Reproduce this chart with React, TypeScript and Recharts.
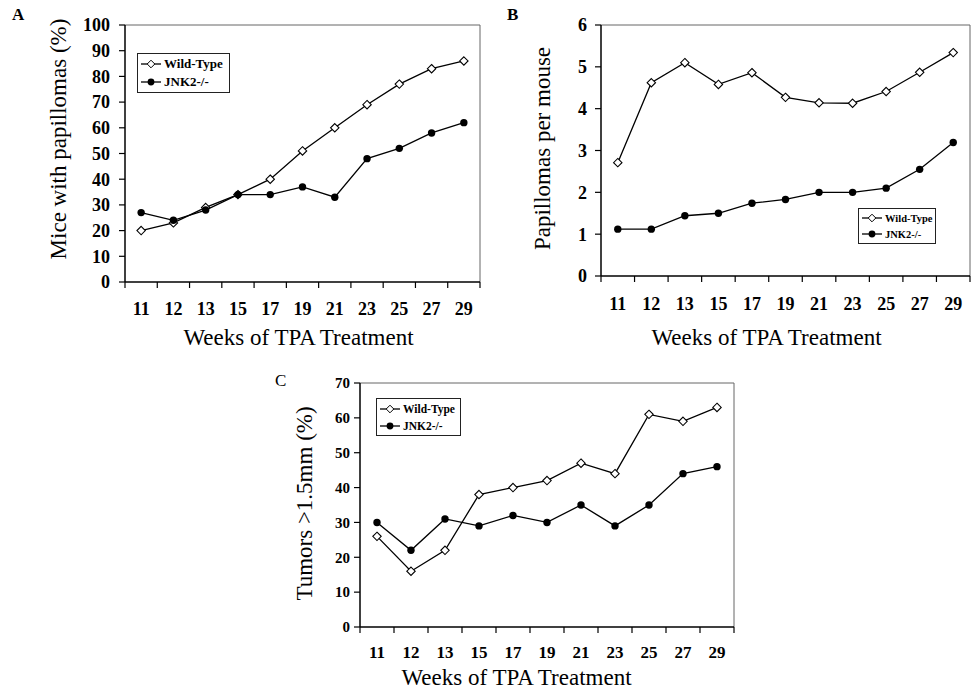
import React from 'react';
import {
  LineChart,
  Line,
  XAxis,
  YAxis,
  Label,
  Legend,
  ReferenceLine,
} from 'recharts';

const FONT = "'Liberation Serif', 'Times New Roman', Times, serif";

const weeks = ['11', '12', '13', '15', '17', '19', '21', '23', '25', '27', '29'];

// A: mice with papillomas (%)
const pctWildType = [20, 23, 29, 34, 40, 51, 60, 69, 77, 83, 86];
const pctJnk2 = [27, 24, 28, 34, 34, 37, 33, 48, 52, 58, 62];
const pctTicks = [0, 10, 20, 30, 40, 50, 60, 70, 80, 90, 100];

// B: papillomas per mouse
const perMouseWildType = [2.71, 4.62, 5.1, 4.58, 4.86, 4.27, 4.14, 4.13, 4.41, 4.87, 5.34];
const perMouseJnk2 = [1.12, 1.12, 1.44, 1.5, 1.74, 1.83, 2.0, 2.0, 2.1, 2.55, 3.19];
const perMouseTicks = [0, 1, 2, 3, 4, 5, 6];

// C: tumors > 1.5mm (%)
const tumorWildType = [26, 16, 22, 38, 40, 42, 47, 44, 61, 59, 63];
const tumorJnk2 = [30, 22, 31, 29, 32, 30, 35, 29, 35, 44, 46];
const tumorTicks = [0, 10, 20, 30, 40, 50, 60, 70];

const seriesNames = ['Wild-Type', 'JNK2-/-'];
const xTitle = 'Weeks of TPA Treatment';

// tick marks sit on the category edges, labels in between
const edgeTicks = Array.from({ length: weeks.length + 1 }, (_, i) => i);

function buildRows(wt: number[], jnk: number[]) {
  return weeks.map((w, i) => ({ pos: i + 0.5, week: w, wt: wt[i], jnk: jnk[i] }));
}

function Diamond(props: any) {
  const { cx, cy, index } = props;
  if (cx == null || cy == null) return <g key={`dm-${index}`} />;
  const r = 4.2;
  return (
    <polygon
      key={`dm-${index}`}
      points={`${cx},${cy - r} ${cx + r},${cy} ${cx},${cy + r} ${cx - r},${cy}`}
      fill="#fff"
      stroke="#000"
      strokeWidth={1.1}
    />
  );
}

function LegendBox({ fontSize, rowHeight, width }: { fontSize: number; rowHeight: number; width: number }) {
  const icon = (filled: boolean) => (
    <svg width={22} height={10} style={{ marginRight: 2, flex: 'none' }}>
      <line x1={1} y1={5} x2={21} y2={5} stroke="#000" strokeWidth={1.3} />
      {filled ? (
        <circle cx={11} cy={5} r={3.4} fill="#000" />
      ) : (
        <polygon points="11,1.2 14.8,5 11,8.8 7.2,5" fill="#fff" stroke="#000" strokeWidth={1} />
      )}
    </svg>
  );
  return (
    <div
      style={{
        width,
        border: '1px solid #222',
        background: '#fff',
        padding: '1px 2px',
        boxSizing: 'border-box',
        fontFamily: FONT,
        fontWeight: 'bold',
        fontSize,
        color: '#000',
        whiteSpace: 'nowrap',
      }}
    >
      {seriesNames.map((name, i) => (
        <div key={name} style={{ display: 'flex', alignItems: 'center', height: rowHeight }}>
          {icon(i === 1)}
          <span>{name}</span>
        </div>
      ))}
    </div>
  );
}

interface PanelProps {
  left: number;
  top: number;
  width: number;
  height: number;
  margin: { top: number; right: number; bottom: number; left: number };
  yWidth: number;
  xHeight: number;
  data: ReturnType<typeof buildRows>;
  yTicks: number[];
  yTitle: string;
  yTitleX: number;
  yTitleDy: number;
  xTitleDx: number;
  xTitleDy: number;
  yTickFont: number;
  yTickMargin: number;
  xTickFont: number;
  xTickDy: number;
  legend: { left: number; top: number; fontSize: number; rowHeight: number; width: number };
}

function Panel(p: PanelProps) {
  const plotWidth = p.width - p.margin.left - p.margin.right - p.yWidth;
  const band = plotWidth / weeks.length;
  const yMax = p.yTicks[p.yTicks.length - 1];

  const weekTick = (props: any) => {
    const { x, y, payload, index } = props;
    const i = payload.value;
    if (i >= weeks.length) return <g key={`wt-${index}`} />;
    return (
      <text
        key={`wt-${index}`}
        x={x + band / 2}
        y={y + p.xTickDy}
        textAnchor="middle"
        fontFamily={FONT}
        fontWeight="bold"
        fontSize={p.xTickFont}
        fill="#000"
      >
        {weeks[i]}
      </text>
    );
  };

  return (
    <div style={{ position: 'absolute', left: p.left, top: p.top }}>
      <LineChart width={p.width} height={p.height} data={p.data} margin={p.margin}>
        <XAxis
          type="number"
          dataKey="pos"
          domain={[0, weeks.length]}
          ticks={edgeTicks}
          interval={0}
          height={p.xHeight}
          tickSize={6}
          tickMargin={2}
          tick={weekTick}
          axisLine={{ stroke: '#000', strokeWidth: 1.5 }}
          tickLine={{ stroke: '#000', strokeWidth: 1.2 }}
        >
          <Label
            content={(lp: any) => {
              const vb = lp.viewBox;
              return (
                <text
                  x={vb.x + vb.width / 2 + p.xTitleDx}
                  y={vb.y + p.xTitleDy}
                  textAnchor="middle"
                  fontFamily={FONT}
                  fontSize={23}
                  fill="#000"
                >
                  {xTitle}
                </text>
              );
            }}
          />
        </XAxis>
        <YAxis
          type="number"
          domain={[0, yMax]}
          ticks={p.yTicks}
          interval={0}
          width={p.yWidth}
          tickSize={6}
          tickMargin={p.yTickMargin}
          tick={{ fontFamily: FONT, fontWeight: 'bold', fontSize: p.yTickFont, fill: '#000' }}
          axisLine={{ stroke: '#000', strokeWidth: 1.5 }}
          tickLine={{ stroke: '#000', strokeWidth: 1.2 }}
        >
          <Label
            content={(lp: any) => {
              const vb = lp.viewBox;
              const cx = vb.x + p.yTitleX;
              const cy = vb.y + vb.height / 2 + p.yTitleDy;
              return (
                <text
                  x={cx}
                  y={cy}
                  transform={`rotate(-90 ${cx} ${cy})`}
                  textAnchor="middle"
                  dominantBaseline="central"
                  fontFamily={FONT}
                  fontSize={23}
                  fill="#000"
                >
                  {p.yTitle}
                </text>
              );
            }}
          />
        </YAxis>
        <ReferenceLine y={yMax} stroke="#666" strokeWidth={1} />
        <ReferenceLine x={weeks.length} stroke="#666" strokeWidth={1} />
        <Legend
          layout="vertical"
          align="center"
          verticalAlign="middle"
          wrapperStyle={{ left: p.legend.left, top: p.legend.top, width: 'auto' }}
          content={() => (
            <LegendBox fontSize={p.legend.fontSize} rowHeight={p.legend.rowHeight} width={p.legend.width} />
          )}
        />
        <Line
          dataKey="wt"
          name={seriesNames[0]}
          stroke="#000"
          strokeWidth={1.3}
          dot={Diamond}
          activeDot={false}
          isAnimationActive={false}
        />
        <Line
          dataKey="jnk"
          name={seriesNames[1]}
          stroke="#000"
          strokeWidth={1.3}
          dot={{ r: 3.7, fill: '#000', stroke: '#000', strokeWidth: 0 }}
          activeDot={false}
          isAnimationActive={false}
        />
      </LineChart>
    </div>
  );
}

const letterStyle: React.CSSProperties = {
  position: 'absolute',
  fontFamily: FONT,
  fontSize: 17,
  lineHeight: '17px',
  color: '#000',
};

export default function App() {
  return (
    <div style={{ position: 'absolute', left: 0, top: 0, width: 976, height: 690, background: '#fff' }}>
      <Panel
        left={0}
        top={0}
        width={490}
        height={360}
        margin={{ top: 25, right: 10, bottom: 0, left: 5 }}
        yWidth={120}
        xHeight={78}
        data={buildRows(pctWildType, pctJnk2)}
        yTicks={pctTicks}
        yTitle="Mice with papillomas (%)"
        yTitleX={53}
        yTitleDy={-14.5}
        xTitleDx={-4}
        xTitleDy={63}
        yTickFont={18}
        yTickMargin={9}
        xTickFont={18}
        xTickDy={25}
        legend={{ left: 137, top: 53, fontSize: 13, rowHeight: 18, width: 93 }}
      />
      <Panel
        left={490}
        top={0}
        width={486}
        height={360}
        margin={{ top: 25, right: 6, bottom: 0, left: 5 }}
        yWidth={106}
        xHeight={84}
        data={buildRows(perMouseWildType, perMouseJnk2)}
        yTicks={perMouseTicks}
        yTitle="Papillomas per mouse"
        yTitleX={47}
        yTitleDy={-2}
        xTitleDx={-19}
        xTitleDy={69}
        yTickFont={18}
        yTickMargin={8}
        xTickFont={18}
        xTickDy={26}
        legend={{ left: 368, top: 208, fontSize: 10.5, rowHeight: 16, width: 78 }}
      />
      <Panel
        left={280}
        top={360}
        width={460}
        height={330}
        margin={{ top: 23, right: 6, bottom: 0, left: 5 }}
        yWidth={75}
        xHeight={63}
        data={buildRows(tumorWildType, tumorJnk2)}
        yTicks={tumorTicks}
        yTitle="Tumors >1.5mm (%)"
        yTitleX={19}
        yTitleDy={-1.5}
        xTitleDx={-30.5}
        xTitleDy={58}
        yTickFont={15}
        yTickMargin={4}
        xTickFont={17}
        xTickDy={23}
        legend={{ left: 96, top: 38, fontSize: 11.5, rowHeight: 17, width: 85 }}
      />
      <div style={{ ...letterStyle, left: 12, top: 6, fontWeight: 'bold' }}>A</div>
      <div style={{ ...letterStyle, left: 507, top: 6, fontWeight: 'bold' }}>B</div>
      <div style={{ ...letterStyle, left: 275, top: 372 }}>C</div>
    </div>
  );
}
